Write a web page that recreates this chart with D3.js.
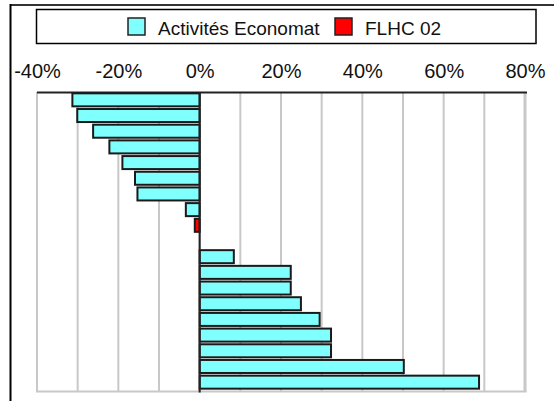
<!DOCTYPE html>
<html>
<head>
<meta charset="utf-8">
<script src="https://cdn.jsdelivr.net/npm/d3@7/dist/d3.min.js"></script>
<style>
  html, body { margin: 0; padding: 0; background: #fff; }
  svg { display: block; font-family: "Liberation Sans", Arial, sans-serif; }
</style>
</head>
<body>
<svg id="chart" width="554" height="401"></svg>
<script>
// ---- Data ----
const categories = ["C1","C2","C3","C4","C5","C6","C7","C8","C9","C10","C11","C12","C13","C14","C15","C16","C17","C18","C19"];
const economatValues = [-31.3, -30.1, -26.2, -22.2, -19.0, -15.9, -15.3, -3.4, null, null, 8.4, 22.4, 22.4, 24.9, 29.5, 32.3, 32.3, 50.2, 68.7];
const flhcValues = [null, null, null, null, null, null, null, null, -1.2, null, null, null, null, null, null, null, null, null, null];
const seriesNames = ["Activités Economat", "FLHC 02"];
const seriesColors = ["#80FFFF", "#FF0000"];
const tickValues = [-40, -20, 0, 20, 40, 60, 80];
const gridValues = [-40, -30, -20, -10, 0, 10, 20, 30, 40, 50, 60, 70, 80];

// ---- Layout ----
const svg = d3.select("#chart");
const plot = { left: 37, right: 525, top: 92, bottom: 390 };

const x = d3.scaleLinear().domain([-40, 80]).range([plot.left, plot.right]);
const y = d3.scaleBand().domain(categories).range([plot.top, plot.bottom]).paddingInner(0.17).paddingOuter(0.085);

// outer frame (partial)
svg.append("line").attr("x1", 10).attr("x2", 554).attr("y1", 5).attr("y2", 5)
  .attr("stroke", "#333").attr("stroke-width", 2);
svg.append("line").attr("x1", 10.5).attr("x2", 10.5).attr("y1", 4).attr("y2", 401)
  .attr("stroke", "#000").attr("stroke-width", 2);

// legend
const lg = svg.append("g");
lg.append("rect").attr("x", 36.5).attr("y", 9.5).attr("width", 499.5).attr("height", 34)
  .attr("fill", "#fff").attr("stroke", "#000").attr("stroke-width", 1.5);
const legendItems = [
  { name: seriesNames[0], color: seriesColors[0], sx: 128, tx: 158 },
  { name: seriesNames[1], color: seriesColors[1], sx: 335, tx: 365 }
];
legendItems.forEach(d => {
  lg.append("rect").attr("x", d.sx).attr("y", 18).attr("width", 17).attr("height", 17)
    .attr("fill", d.color).attr("stroke", "#222").attr("stroke-width", 1.5);
  lg.append("text").attr("x", d.tx).attr("y", 35).attr("font-size", 19).attr("fill", "#111").text(d.name);
});

// gridlines
svg.append("g").selectAll("line").data(gridValues).join("line")
  .attr("x1", d => x(d)).attr("x2", d => x(d))
  .attr("y1", plot.top).attr("y2", plot.bottom + 2)
  .attr("stroke", "#c8c8c8").attr("stroke-width", d => d === 80 ? 3 : 2);
// bottom border
svg.append("line").attr("x1", plot.left - 1).attr("x2", plot.right + 1.5)
  .attr("y1", plot.bottom + 1.5).attr("y2", plot.bottom + 1.5)
  .attr("stroke", "#c8c8c8").attr("stroke-width", 2);

// top axis
const axis = d3.axisTop(x).tickValues(tickValues).tickFormat(d => d + "%").tickSize(0).tickPadding(0);
const ag = svg.append("g").attr("transform", `translate(0,${plot.top})`).call(axis);
ag.select(".domain").attr("stroke", "#222").attr("stroke-width", 2)
  .attr("d", `M${plot.left},0.5H${plot.right + 2}`);
ag.selectAll("text").attr("font-size", 20).attr("fill", "#111")
  .attr("font-family", "'Liberation Sans', Arial, sans-serif")
  .attr("dy", 0).attr("y", 78 - plot.top);

// bars
const bars = [];
categories.forEach((c, i) => {
  if (economatValues[i] != null) bars.push({ c, v: economatValues[i], color: seriesColors[0] });
  if (flhcValues[i] != null) bars.push({ c, v: flhcValues[i], color: seriesColors[1] });
});
svg.append("g").selectAll("rect").data(bars).join("rect")
  .attr("x", d => x(Math.min(0, d.v)))
  .attr("width", d => Math.abs(x(d.v) - x(0)))
  .attr("y", d => y(d.c))
  .attr("height", y.bandwidth())
  .attr("fill", d => d.color)
  .attr("stroke", "#1a1a1a").attr("stroke-width", 2);

// zero axis
svg.append("line").attr("x1", x(0)).attr("x2", x(0))
  .attr("y1", plot.top).attr("y2", plot.bottom + 2.5)
  .attr("stroke", "#222").attr("stroke-width", 2);
</script>
</body>
</html>
